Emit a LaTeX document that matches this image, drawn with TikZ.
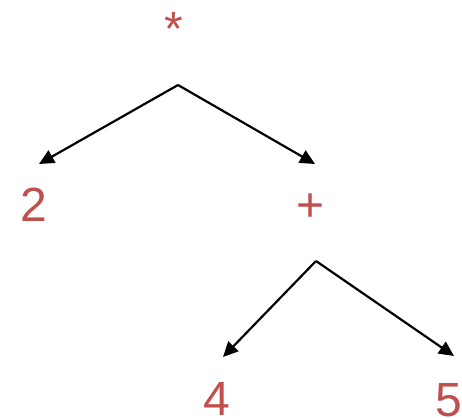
\documentclass[tikz,border=0pt]{standalone}
\usepackage{fontspec}
\setmainfont{Liberation Sans}
\usetikzlibrary{arrows.meta}
\definecolor{lbl}{HTML}{C0504D}
\begin{document}
\begin{tikzpicture}[x=1pt,y=-1pt,
  lab/.style={text=lbl,font=\fontsize{48}{48}\selectfont,inner sep=0pt,anchor=base},
  edge/.style={line width=2.2pt,-{Triangle[length=15pt,width=14pt]}}]
\useasboundingbox (0,0) rectangle (462,417);
\node[lab] (mul) at (174,46) {*};
\node[lab] (two) at (34,221) {2};
\node[lab] (plus) at (311,221) {+};
\node[lab] (four) at (217,415) {4};
\node[lab] (five) at (449,416) {5};
\coordinate (a1) at (178,85);
\coordinate (t2) at (39,164);
\coordinate (tp) at (315,164);
\coordinate (a2) at (316,261);
\coordinate (t4) at (223,357);
\coordinate (t5) at (454,356);
\draw[edge] (a1) -- (t2);
\draw[edge] (a1) -- (tp);
\draw[edge] (a2) -- (t4);
\draw[edge] (a2) -- (t5);
\end{tikzpicture}
\end{document}
